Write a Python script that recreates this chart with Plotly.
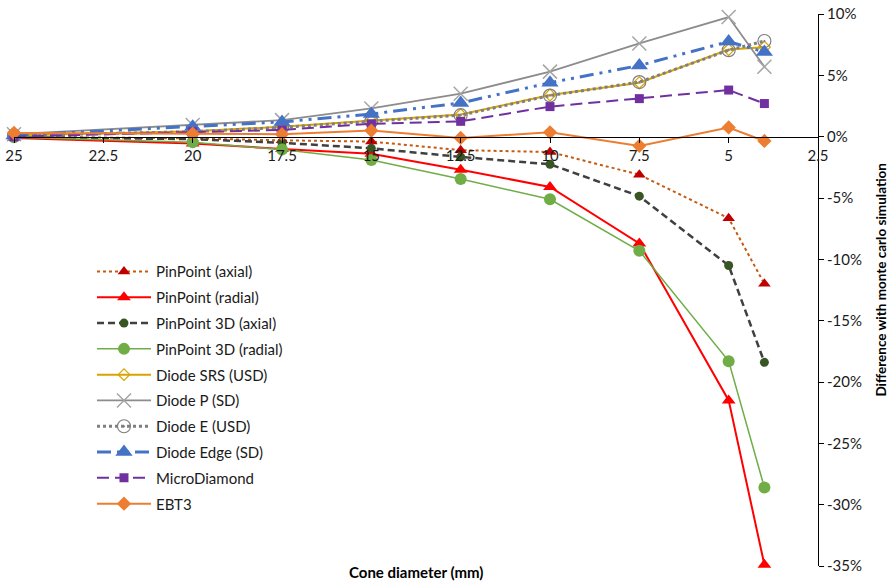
import plotly.graph_objects as go

# Cone diameters (mm)
diameters = [25, 20, 17.5, 15, 12.5, 10, 7.5, 5, 4]

# Difference with Monte Carlo simulation (%)
pinpoint_axial = [0.0, -0.15, -0.3, -0.4, -1.1, -1.25, -3.1, -6.65, -12.0]
pinpoint_radial = [-0.1, -0.55, -1.0, -1.4, -2.7, -4.1, -8.7, -21.5, -34.9]
pinpoint3d_axial = [-0.05, -0.2, -0.5, -0.95, -1.65, -2.25, -4.85, -10.5, -18.4]
pinpoint3d_radial = [-0.05, -0.45, -1.05, -1.9, -3.45, -5.1, -9.3, -18.3, -28.6]
diode_srs = [0.1, 0.45, 0.8, 1.3, 1.8, 3.4, 4.4, 7.1, 7.3]
diode_p = [0.2, 0.95, 1.35, 2.3, 3.5, 5.3, 7.6, 9.75, 5.7]
diode_e = [0.1, 0.4, 0.75, 1.25, 1.75, 3.35, 4.45, 7.05, 7.8]
diode_edge = [0.1, 0.8, 1.2, 1.85, 2.75, 4.4, 5.8, 7.75, 6.9]
microdiamond = [0.0, 0.4, 0.55, 1.05, 1.25, 2.45, 3.1, 3.8, 2.7]
ebt3 = [0.3, 0.25, 0.2, 0.5, -0.1, 0.35, -0.75, 0.75, -0.35]

# Axis ticks
x_ticks = [25, 22.5, 20, 17.5, 15, 12.5, 10, 7.5, 5, 2.5]
x_tick_labels = ["25", "22.5", "20", "17.5", "15", "12.5", "10", "7.5", "5", "2.5"]
y_ticks = [10, 5, 0, -5, -10, -15, -20, -25, -30, -35]
y_tick_labels = ["10%", "5%", "0%", "-5%", "-10%", "-15%", "-20%", "-25%", "-30%", "-35%"]

FONT = "Lato"
TEXT = "#1a1a1a"

series = [
    dict(name="PinPoint (axial)", y=pinpoint_axial,
         line=dict(color="#C55A11", width=2, dash="dot"),
         marker=dict(symbol="triangle-up", size=11, color="#C00000")),
    dict(name="PinPoint (radial)", y=pinpoint_radial,
         line=dict(color="#FF0000", width=2),
         marker=dict(symbol="triangle-up", size=12, color="#FF0000")),
    dict(name="PinPoint 3D (axial)", y=pinpoint3d_axial,
         line=dict(color="#404040", width=2.5, dash="7px,4px"),
         marker=dict(symbol="circle", size=9, color="#375623")),
    dict(name="PinPoint 3D (radial)", y=pinpoint3d_radial,
         line=dict(color="#70AD47", width=1.5),
         marker=dict(symbol="circle", size=12, color="#70AD47")),
    dict(name="Diode SRS (USD)", y=diode_srs,
         line=dict(color="#D9A300", width=2),
         marker=dict(symbol="diamond-open", size=9, color="#D9A300",
                     line=dict(width=1.2))),
    dict(name="Diode P (SD)", y=diode_p,
         line=dict(color="#8C8C8C", width=1.8),
         marker=dict(symbol="x-thin-open", size=14, color="#A5A5A5",
                     line=dict(width=1.5, color="#A5A5A5"))),
    dict(name="Diode E (USD)", y=diode_e,
         line=dict(color="#7F7F7F", width=3, dash="dot"),
         marker=dict(symbol="circle-open-dot", size=13, color="#7F7F7F",
                     line=dict(width=1.2))),
    dict(name="Diode Edge (SD)", y=diode_edge,
         line=dict(color="#4472C4", width=3, dash="14px,6px,3px,6px,3px,6px"),
         marker=dict(symbol="triangle-up", size=15, color="#4472C4")),
    dict(name="MicroDiamond", y=microdiamond,
         line=dict(color="#7030A0", width=2, dash="12px,6px"),
         marker=dict(symbol="square", size=9, color="#7030A0")),
    dict(name="EBT3", y=ebt3,
         line=dict(color="#ED7D31", width=2),
         marker=dict(symbol="diamond", size=11, color="#ED7D31")),
]

fig = go.Figure()
for i, s in enumerate(series):
    fig.add_trace(go.Scatter(
        x=diameters, y=s["y"], name=s["name"], mode="lines+markers",
        line=s["line"], marker=s["marker"], cliponaxis=False,
        legendgroup=f"g{i}",
    ))

# x-axis crosses at y = 0 inside the plot area
y_min, y_max = -35, 10
zero_pos = (0 - y_min) / (y_max - y_min)

fig.update_layout(
    width=888, height=585,
    margin=dict(l=14, r=70, t=14, b=19, autoexpand=False),
    paper_bgcolor="white", plot_bgcolor="white",
    font=dict(family=FONT, size=14, color=TEXT),
    showlegend=True,
    legend=dict(
        x=0.097, y=0.563, xanchor="left", yanchor="top",
        bgcolor="rgba(0,0,0,0)", font=dict(family=FONT, size=15, color=TEXT),
        itemwidth=54, tracegroupgap=3.3, traceorder="grouped",
    ),
    xaxis=dict(
        range=[25, 2.5], autorange=False, automargin=False,
        tickvals=x_ticks, ticktext=x_tick_labels,
        showgrid=False, zeroline=False,
        showline=True, linecolor="black", linewidth=1,
        ticks="outside", ticklen=5, tickcolor="black",
        anchor="free", position=zero_pos,
        tickfont=dict(family=FONT, size=15, color=TEXT),
    ),
    yaxis=dict(
        range=[y_min, y_max], autorange=False, automargin=False,
        tickvals=y_ticks, ticktext=y_tick_labels,
        side="right", showgrid=False, zeroline=False,
        showline=True, linecolor="black", linewidth=1,
        ticks="outside", ticklen=5, tickcolor="black",
        tickfont=dict(family=FONT, size=15, color=TEXT),
    ),
    annotations=[
        dict(text="<b>Cone diameter (mm)</b>", xref="paper", yref="paper",
             x=0.5, y=-0.011, xanchor="center", yanchor="middle",
             showarrow=False, font=dict(family=FONT, size=15, color="black")),
        dict(text="<b>Difference with monte carlo simulation</b>",
             xref="paper", yref="paper", x=1.079, y=0.518,
             xanchor="center", yanchor="middle", textangle=-90,
             showarrow=False, font=dict(family=FONT, size=13.5, color="black")),
    ],
)

fig.write_html("out.html")
